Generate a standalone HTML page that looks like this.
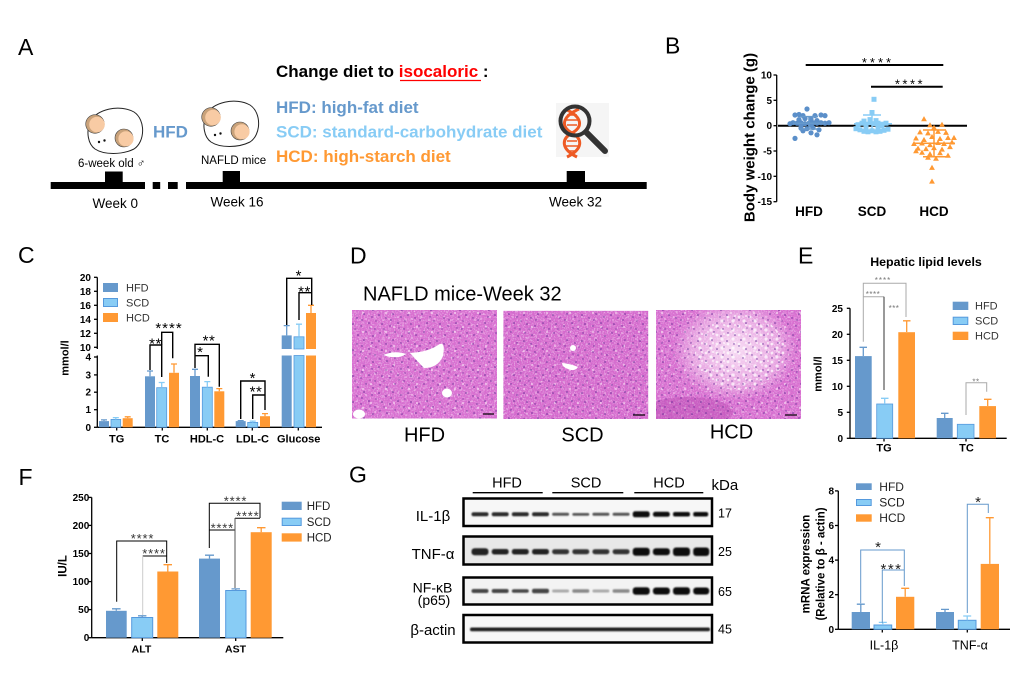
<!DOCTYPE html>
<html><head><meta charset="utf-8"><style>
html,body{margin:0;padding:0;background:#fff;}
svg{display:block;font-family:"Liberation Sans",Arial,sans-serif;}
.b{font-weight:bold;}
</style></head><body>
<svg width="1032" height="687" viewBox="0 0 1032 687" xmlns="http://www.w3.org/2000/svg">
<defs>
<pattern id="pw" width="23" height="19" patternUnits="userSpaceOnUse">
<g fill="#f7d8f2"><circle cx="3" cy="4" r="1.1"/><circle cx="12" cy="2" r="0.8"/><circle cx="18" cy="9" r="1.2"/><circle cx="7" cy="13" r="0.9"/><circle cx="15" cy="16" r="0.8"/><circle cx="21" cy="15" r="0.9"/><circle cx="1" cy="10" r="0.7"/><circle cx="10" cy="8" r="0.7"/></g>
</pattern>
<pattern id="pp" width="29" height="26" patternUnits="userSpaceOnUse">
<g fill="#5a2590" opacity="0.85"><circle cx="2" cy="3" r="0.8"/><circle cx="9" cy="6" r="0.7"/><circle cx="16" cy="2" r="0.8"/><circle cx="24" cy="5" r="0.7"/><circle cx="5" cy="12" r="0.8"/><circle cx="13" cy="14" r="0.7"/><circle cx="21" cy="11" r="0.8"/><circle cx="27" cy="17" r="0.7"/><circle cx="3" cy="21" r="0.7"/><circle cx="10" cy="23" r="0.8"/><circle cx="18" cy="20" r="0.7"/><circle cx="25" cy="24" r="0.8"/><circle cx="14" cy="8" r="0.7"/><circle cx="7" cy="17" r="0.6"/><circle cx="22" cy="16" r="0.6"/><circle cx="28" cy="9" r="0.6"/></g>
</pattern>
<pattern id="pw2" width="11" height="9" patternUnits="userSpaceOnUse">
<g fill="#fff"><circle cx="2" cy="2" r="1.4"/><circle cx="7" cy="6" r="1.6"/><circle cx="9" cy="1" r="1"/></g>
</pattern>
<filter id="noise" x="0" y="0" width="100%" height="100%">
<feTurbulence type="fractalNoise" baseFrequency="0.7" numOctaves="2" seed="3" result="t"/>
<feColorMatrix in="t" type="matrix" values="0 0 0 0 1  0 0 0 0 0.85  0 0 0 0 1  1.6 0 0 0 -0.75" result="w"/>
<feColorMatrix in="t" type="matrix" values="0 0 0 0 0.45  0 0 0 0 0.15  0 0 0 0 0.6  0 -1.6 0 0 0.75" result="p"/>
<feMerge><feMergeNode in="w"/><feMergeNode in="p"/></feMerge>
</filter>
<radialGradient id="hg" cx="0.5" cy="0.5" r="0.5">
<stop offset="0" stop-color="#fdf0fb" stop-opacity="0.85"/><stop offset="0.7" stop-color="#fbe6f7" stop-opacity="0.45"/><stop offset="1" stop-color="#fbe6f7" stop-opacity="0"/>
</radialGradient>
<clipPath id="c1"><rect x="352" y="310" width="145" height="108.5"/></clipPath>
<clipPath id="c2"><rect x="503.3" y="310.7" width="145" height="108.3"/></clipPath>
<clipPath id="c3"><rect x="656" y="310" width="145" height="109"/></clipPath>
<filter id="bl" x="-20%" y="-100%" width="140%" height="300%"><feGaussianBlur stdDeviation="0.9"/></filter>
<path id="tri" d="M0,-3L2.9,2.1L-2.9,2.1Z"/>
</defs>

<!-- ================= Panel A ================= -->
<text x="18" y="55" font-size="23">A</text>
<text x="276" y="77" font-size="17" class="b">Change diet to <tspan fill="#ff0000">isocaloric</tspan> :</text>
<line x1="400" y1="80.5" x2="481" y2="80.5" stroke="#ff0000" stroke-width="1.2"/>
<text x="276" y="113" font-size="17" class="b" fill="#6699cc">HFD: high-fat diet</text>
<text x="276" y="137.5" font-size="17" class="b" fill="#88ccf5">SCD: standard-carbohydrate diet</text>
<text x="276" y="162" font-size="17" class="b" fill="#ff9933">HCD: high-starch diet</text>
<text x="153" y="137.5" font-size="17" class="b" fill="#6699cc">HFD</text>

<!-- mice -->
<g id="mouse">
<path d="M90,122 C96,109 120,104 134,112 C146,120 145,142 134,149 C122,155 104,155 95,149 C88,144 86,132 90,122 Z" fill="#fff" stroke="#222" stroke-width="1"/>
<circle cx="95" cy="124" r="9.3" fill="#c9a27a" stroke="#444" stroke-width="0.6"/>
<circle cx="97" cy="124.5" r="7.8" fill="#f8cba4"/>
<circle cx="124" cy="138" r="9" fill="#c9a27a" stroke="#444" stroke-width="0.6"/>
<circle cx="126" cy="138.8" r="7.6" fill="#f8cba4"/>
<circle cx="99" cy="142" r="1.2" fill="#111"/><circle cx="104.5" cy="140.5" r="1.2" fill="#111"/>
</g>
<use href="#mouse" x="116" y="-7"/>
<text x="78" y="167" font-size="11.5">6-week old ♂</text>
<text x="201" y="164" font-size="11.5">NAFLD mice</text>

<!-- timeline -->
<g fill="#000">
<rect x="50.7" y="182" width="94.3" height="7"/>
<rect x="152.7" y="182" width="7.5" height="7"/>
<rect x="168" y="182" width="9.7" height="7"/>
<rect x="186" y="182" width="460.7" height="7"/>
<rect x="105" y="171.5" width="17.7" height="12"/>
<rect x="222.7" y="171" width="17.3" height="12"/>
<rect x="566.7" y="171" width="18.3" height="12"/>
</g>
<text x="92.5" y="208" font-size="13.5">Week 0</text>
<text x="210.5" y="206.5" font-size="13.5">Week 16</text>
<text x="549" y="206.5" font-size="13.5">Week 32</text>

<!-- DNA magnifier -->
<rect x="556" y="103" width="53" height="54" fill="#f5f5f5"/>
<g stroke="#ee5a24" fill="none">
<path d="M565,109 C583,117 583,127 572,133 C561,139 561,149 577,157" stroke-width="3"/>
<path d="M579,109 C561,117 561,127 572,133 C583,139 583,149 567,157" stroke-width="3"/>
<g stroke-width="1.5"><line x1="567" y1="115" x2="577" y2="115"/><line x1="566" y1="120" x2="578" y2="120"/><line x1="567" y1="125" x2="577" y2="125"/><line x1="567" y1="141" x2="577" y2="141"/><line x1="566" y1="146" x2="578" y2="146"/><line x1="567" y1="151" x2="577" y2="151"/></g>
</g>
<circle cx="575" cy="121" r="14.5" fill="none" stroke="#333" stroke-width="4"/>
<line x1="586" y1="132" x2="605" y2="151" stroke="#333" stroke-width="6" stroke-linecap="round"/>

<!-- ================= Panel B ================= -->
<text x="665" y="53.3" font-size="23">B</text>
<text transform="translate(754.5,137.5) rotate(-90)" text-anchor="middle" font-size="15" class="b">Body weight change (g)</text>
<line x1="776.7" y1="75" x2="776.7" y2="201.7" stroke="#000" stroke-width="1.3"/>
<g stroke="#000" stroke-width="1.3">
<line x1="773.5" y1="75" x2="776.7" y2="75"/><line x1="773.5" y1="100.3" x2="776.7" y2="100.3"/><line x1="773.5" y1="125.7" x2="776.7" y2="125.7"/><line x1="773.5" y1="151" x2="776.7" y2="151"/><line x1="773.5" y1="176.3" x2="776.7" y2="176.3"/><line x1="773.5" y1="201.7" x2="776.7" y2="201.7"/>
</g>
<g font-size="10" class="b" text-anchor="end">
<text x="772" y="78.5">10</text><text x="772" y="103.8">5</text><text x="772" y="129.2">0</text><text x="772" y="154.5">-5</text><text x="772" y="179.8">-10</text><text x="772" y="205.2">-15</text>
</g>
<line x1="778" y1="125.7" x2="967" y2="125.7" stroke="#000" stroke-width="2"/>
<line x1="805.7" y1="65" x2="943.3" y2="65" stroke="#000" stroke-width="2"/>
<line x1="871" y1="86.7" x2="942.7" y2="86.7" stroke="#000" stroke-width="2"/>
<text x="878" y="67" font-size="13" text-anchor="middle" letter-spacing="3">****</text>
<text x="910" y="88.5" font-size="13" text-anchor="middle" letter-spacing="2.5">****</text>
<g font-size="13.5" class="b" text-anchor="middle">
<text x="809" y="216">HFD</text><text x="872" y="216">SCD</text><text x="934" y="216">HCD</text>
</g>
<!-- HFD points -->
<g fill="#5b8fc9">
<circle cx="795" cy="115" r="2.6"/><circle cx="799" cy="114.5" r="2.6"/><circle cx="803" cy="115.6" r="2.6"/><circle cx="815" cy="115.6" r="2.6"/><circle cx="821" cy="115" r="2.6"/><circle cx="825" cy="115.6" r="2.6"/><circle cx="807" cy="109" r="2.6"/><circle cx="793" cy="122.7" r="2.6"/><circle cx="797" cy="123.2" r="2.6"/><circle cx="801" cy="122.7" r="2.6"/><circle cx="805" cy="123.7" r="2.6"/><circle cx="809" cy="123.2" r="2.6"/><circle cx="813" cy="122.7" r="2.6"/><circle cx="817" cy="123.2" r="2.6"/><circle cx="821" cy="122.7" r="2.6"/><circle cx="825" cy="123.2" r="2.6"/><circle cx="829" cy="122.7" r="2.6"/><circle cx="790" cy="123.7" r="2.6"/><circle cx="799" cy="119.6" r="2.6"/><circle cx="805" cy="118.6" r="2.6"/><circle cx="811" cy="119.1" r="2.6"/><circle cx="817" cy="120.6" r="2.6"/><circle cx="801" cy="128.2" r="2.6"/><circle cx="807" cy="128.7" r="2.6"/><circle cx="813" cy="127.7" r="2.6"/><circle cx="819" cy="129.8" r="2.6"/><circle cx="803" cy="130.8" r="2.6"/><circle cx="811" cy="132.8" r="2.6"/><circle cx="795" cy="138.4" r="2.6"/><circle cx="817" cy="134.8" r="2.6"/><circle cx="801" cy="125.7" r="2.6"/><circle cx="811" cy="125.2" r="2.6"/>
</g>
<g stroke="#6699cc" stroke-width="1.5"><line x1="793" y1="123.3" x2="825" y2="123.3"/><line x1="809" y1="116.6" x2="809" y2="129"/><line x1="800" y1="116.6" x2="818" y2="116.6"/><line x1="800" y1="129" x2="818" y2="129"/></g>
<!-- SCD points -->
<g fill="#88ccf5">
<rect x="871.5" y="96.8" width="5" height="5"/><rect x="869.5" y="110" width="5" height="5"/><rect x="859.5" y="120.7" width="5" height="5"/><rect x="863.5" y="121.7" width="5" height="5"/><rect x="867.5" y="120.2" width="5" height="5"/><rect x="871.5" y="121.2" width="5" height="5"/><rect x="875.5" y="120.7" width="5" height="5"/><rect x="879.5" y="121.7" width="5" height="5"/><rect x="883.5" y="120.7" width="5" height="5"/><rect x="855.5" y="122.2" width="5" height="5"/><rect x="853.5" y="126.2" width="5" height="5"/><rect x="857.5" y="127.3" width="5" height="5"/><rect x="861.5" y="128.8" width="5" height="5"/><rect x="865.5" y="129.3" width="5" height="5"/><rect x="869.5" y="128.3" width="5" height="5"/><rect x="873.5" y="129.3" width="5" height="5"/><rect x="877.5" y="128.8" width="5" height="5"/><rect x="881.5" y="127.8" width="5" height="5"/><rect x="885.5" y="126.7" width="5" height="5"/><rect x="863.5" y="125.2" width="5" height="5"/><rect x="875.5" y="124.7" width="5" height="5"/><rect x="867.5" y="117.1" width="5" height="5"/><rect x="873.5" y="118.1" width="5" height="5"/><rect x="861.5" y="118.6" width="5" height="5"/><rect x="879.5" y="123.2" width="5" height="5"/>
</g>
<g stroke="#88ccf5" stroke-width="1.5"><line x1="854" y1="123.7" x2="892" y2="123.7"/><line x1="872" y1="115" x2="872" y2="131.7"/><line x1="863" y1="115" x2="881" y2="115"/><line x1="863" y1="131.7" x2="881" y2="131.7"/></g>
<!-- HCD points -->
<g fill="#ff9933">
<use href="#tri" x="924" y="119.1"/><use href="#tri" x="942" y="124.7"/><use href="#tri" x="930" y="125.2"/><use href="#tri" x="934" y="127.7"/><use href="#tri" x="920" y="132.3"/><use href="#tri" x="928" y="133.3"/><use href="#tri" x="938" y="131.8"/><use href="#tri" x="946" y="132.8"/><use href="#tri" x="916" y="138.4"/><use href="#tri" x="924" y="139.9"/><use href="#tri" x="932" y="136.9"/><use href="#tri" x="940" y="138.9"/><use href="#tri" x="948" y="137.9"/><use href="#tri" x="954" y="137.9"/><use href="#tri" x="914" y="143.9"/><use href="#tri" x="922" y="143.4"/><use href="#tri" x="930" y="145"/><use href="#tri" x="938" y="142.9"/><use href="#tri" x="944" y="143.9"/><use href="#tri" x="952" y="142.4"/><use href="#tri" x="918" y="148.5"/><use href="#tri" x="926" y="149"/><use href="#tri" x="934" y="148"/><use href="#tri" x="942" y="149.5"/><use href="#tri" x="922" y="152.6"/><use href="#tri" x="930" y="154.1"/><use href="#tri" x="940" y="153.1"/><use href="#tri" x="948" y="155.6"/><use href="#tri" x="928" y="157.6"/><use href="#tri" x="936" y="158.7"/><use href="#tri" x="932" y="167.8"/><use href="#tri" x="932" y="181.5"/><use href="#tri" x="950" y="147"/><use href="#tri" x="916" y="151.1"/>
</g>
<g stroke="#ff9933" stroke-width="1.5"><line x1="914" y1="143.3" x2="955" y2="143.3"/><line x1="934" y1="130" x2="934" y2="156.7"/><line x1="923" y1="130" x2="946" y2="130"/><line x1="923" y1="156.7" x2="946" y2="156.7"/></g>

<!-- ================= Panel C ================= -->
<text x="18" y="263" font-size="23">C</text>
<text transform="translate(68.3,358) rotate(-90)" text-anchor="middle" font-size="11" class="b">mmol/l</text>
<g stroke="#000" stroke-width="1.3">
<line x1="97.3" y1="277.3" x2="97.3" y2="349"/>
<line x1="97.3" y1="355.5" x2="97.3" y2="427.3"/>
<line x1="97.3" y1="427.3" x2="322" y2="427.3"/>
<line x1="94" y1="277.3" x2="97.3" y2="277.3"/><line x1="94" y1="291.3" x2="97.3" y2="291.3"/><line x1="94" y1="305.3" x2="97.3" y2="305.3"/><line x1="94" y1="319.3" x2="97.3" y2="319.3"/><line x1="94" y1="333.3" x2="97.3" y2="333.3"/><line x1="94" y1="347.3" x2="97.3" y2="347.3"/>
<line x1="94" y1="357" x2="97.3" y2="357"/><line x1="94" y1="374.9" x2="97.3" y2="374.9"/><line x1="94" y1="392.2" x2="97.3" y2="392.2"/><line x1="94" y1="409.7" x2="97.3" y2="409.7"/><line x1="94" y1="427.3" x2="97.3" y2="427.3"/>
<line x1="116.7" y1="427.3" x2="116.7" y2="430.5"/><line x1="162.3" y1="427.3" x2="162.3" y2="430.5"/><line x1="207.3" y1="427.3" x2="207.3" y2="430.5"/><line x1="252.3" y1="427.3" x2="252.3" y2="430.5"/><line x1="298.3" y1="427.3" x2="298.3" y2="430.5"/>
</g>
<g font-size="10" class="b" text-anchor="end">
<text x="91" y="280.8">20</text><text x="91" y="294.8">18</text><text x="91" y="308.8">16</text><text x="91" y="322.8">14</text><text x="91" y="336.8">12</text><text x="91" y="350.8">10</text>
<text x="91" y="360.5">4</text><text x="91" y="378.4">3</text><text x="91" y="395.7">2</text><text x="91" y="413.2">1</text><text x="91" y="430.8">0</text>
</g>
<g fill="#6699cc">
<rect x="99" y="421.1" width="10" height="6.2"/><rect x="145" y="376.3" width="10" height="51"/><rect x="190" y="376" width="10" height="51.3"/><rect x="235.7" y="421.1" width="10" height="6.2"/>
<rect x="281.7" y="335.4" width="10" height="13.6"/><rect x="281.7" y="355.5" width="10" height="71.8"/>
</g>
<g fill="#88ccf5" stroke="#5599dd" stroke-width="0.8">
<rect x="111" y="419.4" width="9.7" height="7.9"/><rect x="156.7" y="387.7" width="10" height="39.6"/><rect x="202.3" y="387.2" width="10" height="40.1"/><rect x="247.7" y="422.4" width="10" height="4.9"/>
<rect x="294" y="336.8" width="10" height="12.2"/><rect x="294" y="355.5" width="10" height="71.8"/>
</g>
<g fill="#ff9933">
<rect x="122.7" y="418.2" width="10" height="9.1"/><rect x="169" y="372.8" width="10" height="54.5"/><rect x="214.3" y="391.3" width="10" height="36"/><rect x="260" y="416.2" width="10" height="11.1"/>
<rect x="306" y="313" width="10" height="36"/><rect x="306" y="355.5" width="10" height="71.8"/>
</g>
<g stroke-width="1.3" fill="none">
<path stroke="#6699cc" d="M104,421 V419.9 M101,419.9 H107 M150,376.3 V371 M147,371 H153 M195,376 V369.3 M192,369.3 H198 M240.7,421 V420.6 M237.7,420.6 H243.7 M286.7,335.4 V325.6 M283.7,325.6 H289.7"/>
<path stroke="#88ccf5" d="M115.8,419.4 V417.6 M112.8,417.6 H118.8 M161.7,387.7 V382.5 M158.7,382.5 H164.7 M207.3,387.2 V381.6 M204.3,381.6 H210.3 M252.7,422.4 V421.1 M249.7,421.1 H255.7 M299,336.8 V324.2 M296,324.2 H302"/>
<path stroke="#ff9933" d="M127.7,418.2 V416.8 M124.7,416.8 H130.7 M174,372.8 V364 M171,364 H177 M219.3,391.3 V388.6 M216.3,388.6 H222.3 M265,416.2 V413.6 M262,413.6 H268 M311,313 V305.3 M308,305.3 H314"/>
</g>
<g stroke="#000" stroke-width="1.4" fill="none">
<path d="M150,370 V345 H161.7 V377"/>
<path d="M161.7,345 V332.3 H172.7 V358.3"/>
<path d="M195,368 V344.3 H219.3 V386.7"/>
<path d="M195,355.7 H208.3 V376.7"/>
<path d="M240.7,419 V381 H265 V410"/>
<path d="M252.7,419 V395 H265"/>
<path d="M286.7,325 V278.3 H311.7 V305"/>
<path d="M299,320 V292.7 H311.7"/>
</g>
<g font-size="15" text-anchor="middle">
<text x="155.5" y="348.5" letter-spacing="0.5">**</text>
<text x="169" y="333" letter-spacing="1">****</text>
<text x="209" y="345.5" letter-spacing="0.5">**</text>
<text x="200" y="357">*</text>
<text x="252.5" y="383">*</text>
<text x="256" y="396.5" letter-spacing="0.5">**</text>
<text x="298.5" y="280.5">*</text>
<text x="304.5" y="296.5" letter-spacing="0.5">**</text>
</g>
<rect x="103" y="283" width="15" height="9" fill="#6699cc"/>
<rect x="103.5" y="298.5" width="14" height="8" fill="#88ccf5" stroke="#5599dd" stroke-width="1"/>
<rect x="103" y="313" width="15" height="9" fill="#ff9933"/>
<g font-size="11" fill="#333"><text x="126" y="291.5">HFD</text><text x="126" y="306.5">SCD</text><text x="126" y="321.5">HCD</text></g>
<g font-size="11" class="b" text-anchor="middle">
<text x="116.7" y="442.5">TG</text><text x="162" y="442.5">TC</text><text x="207" y="442.5">HDL-C</text><text x="252.5" y="442.5">LDL-C</text><text x="298.7" y="442.5">Glucose</text>
</g>

<!-- ================= Panel D ================= -->
<text x="350" y="263.3" font-size="23">D</text>
<text x="363" y="300.5" font-size="20">NAFLD mice-Week 32</text>
<g clip-path="url(#c1)">
<rect x="352" y="310" width="145" height="108.5" fill="#d96fd0"/>
<rect x="352" y="310" width="145" height="108.5" filter="url(#noise)"/>
<rect x="352" y="310" width="145" height="108.5" fill="url(#pw)" opacity="0.7"/>
<rect x="352" y="310" width="145" height="108.5" fill="url(#pp)"/>
<path d="M383,355 Q395,350 406,354 Q398,360 383,355 Z M410,353 Q428,352 438,345 Q446,340 443,356 Q438,368 424,368 Q418,362 410,353 Z" fill="#fff"/>
<ellipse cx="447" cy="393" rx="5" ry="4.5" fill="#fff"/>
<ellipse cx="359" cy="414" rx="6" ry="4.5" fill="#fff"/>
<line x1="483" y1="414" x2="494" y2="414" stroke="#000" stroke-width="1.2"/>
</g>
<g clip-path="url(#c2)">
<rect x="503.3" y="310.7" width="145" height="108.3" fill="#d66acd"/>
<rect x="503.3" y="310.7" width="145" height="108.3" filter="url(#noise)"/>
<rect x="503.3" y="310.7" width="145" height="108.3" fill="url(#pw)" opacity="0.6"/>
<rect x="503.3" y="310.7" width="145" height="108.3" fill="url(#pp)"/>
<path d="M562,363 Q572,364 578,367 Q575,372 568,369 Q562,367 562,363 Z" fill="#fff"/>
<circle cx="573" cy="348" r="3" fill="#fff"/>
<line x1="633" y1="415" x2="645" y2="415" stroke="#000" stroke-width="1.2"/>
</g>
<g clip-path="url(#c3)">
<rect x="656" y="310" width="145" height="109" fill="#d96fd0"/>
<rect x="656" y="310" width="145" height="109" filter="url(#noise)"/>
<rect x="656" y="310" width="145" height="109" fill="url(#pw)" opacity="0.7"/>
<ellipse cx="735" cy="350" rx="62" ry="50" fill="url(#hg)"/>
<ellipse cx="740" cy="352" rx="45" ry="38" fill="url(#pw2)" opacity="0.7"/>
<ellipse cx="688" cy="412" rx="45" ry="15" fill="#b040a8" opacity="0.35"/>
<rect x="656" y="310" width="145" height="109" fill="url(#pp)"/>
<line x1="785" y1="415" x2="797" y2="415" stroke="#000" stroke-width="1.2"/>
</g>
<g font-size="20" text-anchor="middle">
<text x="424.5" y="441.5">HFD</text><text x="582.5" y="441.5">SCD</text><text x="731.5" y="438.5">HCD</text>
</g>

<!-- ================= Panel E ================= -->
<text x="798" y="263.3" font-size="23">E</text>
<text x="926" y="266" font-size="12.4" class="b" text-anchor="middle">Hepatic lipid levels</text>
<text transform="translate(821.7,374) rotate(-90)" text-anchor="middle" font-size="11" class="b">mmol/l</text>
<g stroke="#000" stroke-width="1.3">
<line x1="850" y1="308.3" x2="850" y2="438.3"/><line x1="850" y1="438.3" x2="1006.7" y2="438.3"/>
<line x1="846.8" y1="308.3" x2="850" y2="308.3"/><line x1="846.8" y1="334.3" x2="850" y2="334.3"/><line x1="846.8" y1="360.3" x2="850" y2="360.3"/><line x1="846.8" y1="386.3" x2="850" y2="386.3"/><line x1="846.8" y1="412.3" x2="850" y2="412.3"/><line x1="846.8" y1="438.3" x2="850" y2="438.3"/>
<line x1="884" y1="438.3" x2="884" y2="441.5"/><line x1="966" y1="438.3" x2="966" y2="441.5"/>
</g>
<g font-size="10" class="b" text-anchor="end">
<text x="843" y="311.8">25</text><text x="843" y="337.8">20</text><text x="843" y="363.8">15</text><text x="843" y="389.8">10</text><text x="843" y="415.8">5</text><text x="843" y="441.8">0</text>
</g>
<g fill="#6699cc"><rect x="855" y="356.1" width="16.7" height="82.2"/><rect x="936.7" y="418" width="16" height="20.3"/></g>
<g fill="#88ccf5" stroke="#5599dd" stroke-width="0.8"><rect x="876.7" y="404" width="16" height="34.3"/><rect x="957.3" y="424.3" width="16.7" height="14"/></g>
<g fill="#ff9933"><rect x="898.3" y="332.2" width="16.7" height="106.1"/><rect x="979.3" y="406.1" width="16.7" height="32.2"/></g>
<g stroke-width="1.3" fill="none">
<path stroke="#6699cc" d="M863.3,356 V347.3 M859.5,347.3 H867 M944.7,418 V413.3 M941,413.3 H948.5"/>
<path stroke="#88ccf5" d="M884.7,404 V398.3 M881,398.3 H888.5"/>
<path stroke="#ff9933" d="M906.7,332 V320.8 M903,320.8 H910.5 M987.7,406 V399.3 M984,399.3 H991.5"/>
</g>
<g stroke="#aaa" stroke-width="1" fill="none">
<path d="M863.3,341.7 V283.3 H906 V317"/>
<path d="M863.3,296.7 H884"/>
<path d="M966,415 V382.7 H986.7 V391.7"/>
</g>
<line x1="884" y1="296.7" x2="884" y2="390" stroke="#333" stroke-width="1"/>
<g font-size="8" fill="#777" text-anchor="middle">
<text x="883" y="283" letter-spacing="1">****</text>
<text x="873" y="297" letter-spacing="0.5">****</text>
<text x="894" y="311" letter-spacing="0.5">***</text>
<text x="976" y="384.5" letter-spacing="0.5">**</text>
</g>
<rect x="952.7" y="301.7" width="15.6" height="8.3" fill="#6699cc"/>
<rect x="953.2" y="317.2" width="14.6" height="7.3" fill="#88ccf5" stroke="#5599dd" stroke-width="1"/>
<rect x="952.7" y="331.7" width="15.6" height="8.3" fill="#ff9933"/>
<g font-size="11" fill="#333"><text x="975" y="309.7">HFD</text><text x="975" y="324.7">SCD</text><text x="975" y="339.7">HCD</text></g>
<g font-size="11" class="b" text-anchor="middle"><text x="884" y="451.7">TG</text><text x="966.5" y="451.7">TC</text></g>

<!-- ================= Panel F ================= -->
<text x="18.5" y="485" font-size="23">F</text>
<text transform="translate(66.7,566) rotate(-90)" text-anchor="middle" font-size="11.5" class="b">IU/L</text>
<g stroke="#000" stroke-width="1.3">
<line x1="91.7" y1="497.4" x2="91.7" y2="637.7"/><line x1="91.7" y1="637.7" x2="283.3" y2="637.7"/>
<line x1="88.5" y1="497.4" x2="91.7" y2="497.4"/><line x1="88.5" y1="525.4" x2="91.7" y2="525.4"/><line x1="88.5" y1="553.5" x2="91.7" y2="553.5"/><line x1="88.5" y1="581.6" x2="91.7" y2="581.6"/><line x1="88.5" y1="609.6" x2="91.7" y2="609.6"/><line x1="88.5" y1="637.7" x2="91.7" y2="637.7"/>
<line x1="142.3" y1="637.7" x2="142.3" y2="641"/><line x1="235.7" y1="637.7" x2="235.7" y2="641"/>
</g>
<g font-size="10" class="b" text-anchor="end">
<text x="89.3" y="500.9">250</text><text x="89.3" y="528.9">200</text><text x="89.3" y="557">150</text><text x="89.3" y="585.1">100</text><text x="89.3" y="613.1">50</text><text x="89.3" y="641.2">0</text>
</g>
<g fill="#6699cc"><rect x="106" y="610.8" width="20.7" height="26.9"/><rect x="199" y="558.6" width="21" height="79.1"/></g>
<g fill="#88ccf5" stroke="#5599dd" stroke-width="1"><rect x="131.7" y="617.5" width="21" height="20.2"/><rect x="225.7" y="590.5" width="20.3" height="47.2"/></g>
<g fill="#ff9933"><rect x="157.3" y="571.5" width="21" height="66.2"/><rect x="250.7" y="532.2" width="21" height="105.5"/></g>
<g stroke-width="1.3" fill="none">
<path stroke="#6699cc" d="M116.3,610.8 V608.8 M112,608.8 H120.6 M209.5,558.6 V555.2 M205,555.2 H214"/>
<path stroke="#6699cc" d="M142.2,617.5 V615.8 M138,615.8 H146.4 M235.8,590.5 V588.9 M231.5,588.9 H240"/>
<path stroke="#ff9933" d="M167.8,571.5 V564.7 M163.5,564.7 H172 M261.2,532.2 V527.7 M257,527.7 H265.5"/>
</g>
<g stroke="#000" stroke-width="1" fill="none">
<path d="M116.7,601.7 V541 H166.7 V563"/>
<path d="M142.7,556 H166.7"/>
<path d="M209.3,548 V503.3 H260 V518"/>
<path d="M235,518.3 H260"/>
<path d="M209.3,530 H235"/>
</g>
<line x1="142.7" y1="556" x2="142.7" y2="615" stroke="#ccc" stroke-width="1"/>
<line x1="235" y1="518" x2="235" y2="588" stroke="#555" stroke-width="1"/>
<g font-size="13" text-anchor="middle" fill="#333">
<text x="142.5" y="543" letter-spacing="0.8">****</text>
<text x="154" y="558" letter-spacing="0.8">****</text>
<text x="235.5" y="505.5" letter-spacing="0.8">****</text>
<text x="247.8" y="520.5" letter-spacing="0.8">****</text>
<text x="222.3" y="532.5" letter-spacing="0.8">****</text>
</g>
<rect x="281.7" y="501.7" width="20" height="8.3" fill="#6699cc"/>
<rect x="282.2" y="518.2" width="19" height="7.3" fill="#88ccf5" stroke="#5599dd" stroke-width="1"/>
<rect x="281.7" y="533.3" width="20" height="8.3" fill="#ff9933"/>
<g font-size="11.5" fill="#222"><text x="306.7" y="509.8">HFD</text><text x="306.7" y="525.8">SCD</text><text x="306.7" y="541.3">HCD</text></g>
<g font-size="10.5" class="b" text-anchor="middle"><text x="141.5" y="652.3">ALT</text><text x="235.5" y="652.3">AST</text></g>

<!-- ================= Panel G ================= -->
<text x="349" y="482.5" font-size="23">G</text>
<g font-size="14.5" text-anchor="middle"><text x="507" y="487.3">HFD</text><text x="586" y="487.3">SCD</text><text x="669" y="487.3">HCD</text></g>
<g stroke="#000" stroke-width="1.3"><line x1="472.7" y1="492.7" x2="542.7" y2="492.7"/><line x1="552.3" y1="492.7" x2="623.3" y2="492.7"/><line x1="634.3" y1="492.7" x2="703.3" y2="492.7"/></g>
<text x="711.5" y="490" font-size="15">kDa</text>
<g stroke="#000" stroke-width="2.5">
<rect x="463.5" y="498.5" width="248.5" height="27.5" fill="#f7f7f7"/>
<rect x="463.5" y="536.5" width="248.5" height="28" fill="#e8e8e8"/>
<rect x="463.5" y="577.5" width="248.5" height="27" fill="#f3f3f3"/>
<rect x="463.5" y="615" width="248.5" height="27.5" fill="#f7f7f7"/>
</g>
<g filter="url(#bl)">
<g fill="#2a2a2a">
<rect x="471.5" y="512.3" width="17" height="4" rx="2"/><rect x="491.7" y="512.3" width="17" height="4" rx="2"/><rect x="511.8" y="512.3" width="17" height="4" rx="2"/><rect x="532" y="512.3" width="17" height="4" rx="2"/>
</g>
<g fill="#555">
<rect x="552.1" y="512.8" width="17" height="3" rx="1.5"/><rect x="572.3" y="513" width="17" height="2.7" rx="1.5"/><rect x="592.4" y="512.8" width="17" height="3" rx="1.5"/><rect x="612.6" y="512.8" width="17" height="3" rx="1.5"/>
</g>
<g fill="#111">
<rect x="632.7" y="511.3" width="17" height="6" rx="2.5"/><rect x="652.9" y="511.8" width="17" height="5" rx="2.5"/><rect x="673" y="512" width="17" height="4.5" rx="2"/><rect x="693.2" y="512" width="15" height="4.5" rx="2"/>
</g>
<g fill="#222">
<rect x="471.5" y="548.2" width="17" height="7" rx="3"/><rect x="491.7" y="549" width="17" height="5.5" rx="2.5"/><rect x="511.8" y="549" width="17" height="5.5" rx="2.5"/><rect x="532" y="549" width="17" height="5.5" rx="2.5"/>
</g>
<g fill="#333">
<rect x="552.1" y="549.2" width="17" height="5" rx="2.5"/><rect x="572.3" y="549.2" width="17" height="5" rx="2.5"/><rect x="592.4" y="549.2" width="17" height="5" rx="2.5"/><rect x="612.6" y="549.2" width="17" height="5" rx="2.5"/>
</g>
<g fill="#111">
<rect x="632.7" y="547.7" width="17" height="8" rx="3"/><rect x="652.9" y="548.2" width="17" height="7" rx="3"/><rect x="673" y="547.5" width="17" height="8.5" rx="3"/><rect x="693.2" y="547.5" width="16" height="8.5" rx="3"/>
</g>
<g fill="#444">
<rect x="471.5" y="589" width="17" height="4" rx="2"/><rect x="491.7" y="589" width="17" height="4" rx="2"/><rect x="511.8" y="589.3" width="17" height="3.5" rx="2"/><rect x="532" y="588.8" width="17" height="4.5" rx="2"/>
</g>
<g fill="#aaa">
<rect x="552.1" y="589.5" width="17" height="3" rx="1.5"/><rect x="572.3" y="589.3" width="17" height="3.5" rx="1.5" fill="#888"/><rect x="592.4" y="589.5" width="17" height="3" rx="1.5"/><rect x="612.6" y="589.3" width="17" height="3.5" rx="1.5" fill="#888"/>
</g>
<g fill="#111">
<rect x="632.7" y="587.2" width="17" height="7.5" rx="3"/><rect x="652.9" y="587.5" width="17" height="7" rx="3"/><rect x="673" y="587.2" width="17" height="7.5" rx="3"/><rect x="693.2" y="587.5" width="16" height="7" rx="3"/>
</g>
<g fill="#222">
<rect x="470" y="627.5" width="240" height="3.8" rx="1.8"/>
</g>
</g>
<g font-size="15" text-anchor="middle">
<text x="433" y="521">IL-1β</text>
<text x="433" y="559">TNF-α</text>
<text x="433" y="635">β-actin</text>
</g>
<g font-size="14" text-anchor="middle"><text x="432.5" y="592.5">NF-κB</text><text x="434" y="605">(p65)</text></g>
<g font-size="12.5"><text x="718" y="517.5">17</text><text x="718" y="556.2">25</text><text x="718" y="596.2">65</text><text x="718" y="633.5">45</text></g>

<!-- ================= Panel H (mRNA) ================= -->
<g font-size="11.5" class="b" text-anchor="middle">
<text transform="translate(809.5,564) rotate(-90)">mRNA expression</text>
<text transform="translate(824.5,564) rotate(-90)">(Relative to β - actin)</text>
</g>
<g stroke="#000" stroke-width="1.3">
<line x1="838.3" y1="490.9" x2="838.3" y2="629.3"/><line x1="838.3" y1="629.3" x2="1010" y2="629.3"/>
<line x1="835" y1="490.9" x2="838.3" y2="490.9"/><line x1="835" y1="525.5" x2="838.3" y2="525.5"/><line x1="835" y1="560.1" x2="838.3" y2="560.1"/><line x1="835" y1="594.7" x2="838.3" y2="594.7"/><line x1="835" y1="629.3" x2="838.3" y2="629.3"/>
<line x1="882.3" y1="629.3" x2="882.3" y2="632.5"/><line x1="967.3" y1="629.3" x2="967.3" y2="632.5"/>
</g>
<g font-size="10" class="b" text-anchor="end">
<text x="834" y="494.4">8</text><text x="834" y="529">6</text><text x="834" y="563.6">4</text><text x="834" y="598.2">2</text><text x="834" y="632.8">0</text>
</g>
<g fill="#6699cc"><rect x="851.7" y="612" width="18.3" height="17.3"/><rect x="936" y="612" width="18" height="17.3"/></g>
<g fill="#88ccf5" stroke="#5599dd" stroke-width="1"><rect x="874" y="625" width="17.7" height="4.3"/><rect x="958.3" y="620.3" width="17.7" height="9"/></g>
<g fill="#ff9933"><rect x="896" y="596.8" width="18.3" height="32.5"/><rect x="980.7" y="563.9" width="18.3" height="65.4"/></g>
<g stroke-width="1.3" fill="none">
<path stroke="#6699cc" d="M860.8,612 V604.2 M856.8,604.2 H864.8 M945,612 V609.4 M941,609.4 H949"/>
<path stroke="#88ccf5" d="M882.8,625 V622.4 M878.8,622.4 H886.8 M967.2,620.3 V616 M963.2,616 H971.2"/>
<path stroke="#ff9933" d="M905.2,596.8 V588.3 M901.2,588.3 H909.2 M989.8,563.9 V517.7 M985.8,517.7 H993.8"/>
</g>
<g stroke="#6699cc" stroke-width="1" fill="none">
<path d="M860.7,603.3 V550 H904.3 V586"/>
<path d="M882.3,623 V570 H904.3"/>
<path d="M967.3,613 V504.3 H988.3 V513"/>
</g>
<g font-size="15" text-anchor="middle" fill="#222">
<text x="878" y="552">*</text>
<text x="891.5" y="574" letter-spacing="1.5">***</text>
<text x="978" y="507">*</text>
</g>
<rect x="856" y="483.3" width="15.7" height="6.7" fill="#6699cc"/>
<rect x="856.5" y="499.5" width="14.7" height="6" fill="#88ccf5" stroke="#5599dd" stroke-width="1"/>
<rect x="856" y="514.3" width="15.7" height="7.4" fill="#ff9933"/>
<g font-size="12" fill="#222"><text x="879.3" y="491">HFD</text><text x="879.3" y="506.5">SCD</text><text x="879.3" y="522">HCD</text></g>
<g font-size="12.5" text-anchor="middle"><text x="884" y="649.3">IL-1β</text><text x="970" y="649.3">TNF-α</text></g>
</svg>
</body></html>
